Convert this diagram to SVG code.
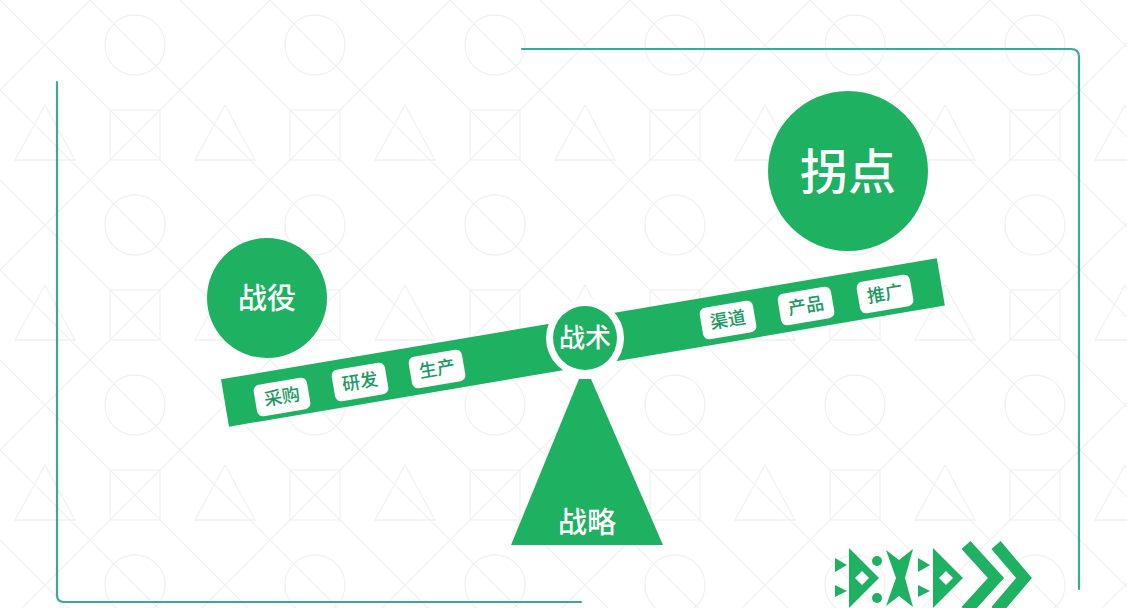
<svg xmlns="http://www.w3.org/2000/svg" width="1127" height="608" viewBox="0 0 1127 608">
<defs>
<style>
.bg{fill:#ffffff}
.pat{fill:none;stroke:#f0f2f2;stroke-width:1.3}
.frame{fill:none;stroke:#3aa998;stroke-width:2.2;stroke-linecap:round}
.g{fill:#1fb162}
.w{fill:#ffffff}
.chev{fill:none;stroke:#1fb162;stroke-width:12;stroke-linejoin:miter}
.big{font-family:"Noto Sans CJK SC","Noto Sans",sans-serif;fill:#ffffff;font-weight:500;text-anchor:middle}
.lbl{font-family:"Noto Sans CJK SC","Noto Sans",sans-serif;fill:#1a9a62;font-weight:500;font-size:18px;text-anchor:middle}
</style>
<pattern id="tile" x="0" y="0" width="180" height="180" patternUnits="userSpaceOnUse">
<path class="pat" d="M0 0 L90 90 M90 0 L0 90"/>
<circle class="pat" cx="135" cy="45" r="30"/>
<rect class="pat" x="110" y="110" width="50" height="50"/>
<path class="pat" d="M45 105 L75 160 L15 160 Z"/>
<path class="pat" d="M90 90 L180 180 M180 90 L90 180 M0 90 L90 180 M90 0 L180 90"/>
</pattern>
</defs>
<rect class="bg" x="0" y="0" width="1127" height="608"/>
<rect x="0" y="0" width="1127" height="608" fill="url(#tile)"/>

<g id="frame">
<path class="frame" d="M522 49 L1071 49 Q1079 49 1079 57 L1079 589"/>
<path class="frame" d="M57 82 L57 595 Q57 602 64 602 L581 602"/>
</g>

<g id="connectors">
<g id="beam" transform="translate(225,403) rotate(-9.6)">
<rect class="g" x="0" y="-24" width="726" height="48"/>
</g>
</g>

<g id="node-zhanyi">
<circle class="g" cx="267" cy="298" r="60"/>
<text class="big" x="267" y="309" font-size="29">战役</text>
</g>

<g id="node-guaidian">
<circle class="g" cx="848" cy="171" r="80"/>
<text class="big" x="848" y="189" font-size="48" font-weight="400">拐点</text>
</g>

<g id="node-zhanlue">
<path class="g" d="M583 379 L591 379 L663 545 L511 545 L579 379 Z"/>
<text class="big" x="587" y="533" font-size="29">战略</text>
</g>

<g id="node-zhanshu">
<circle class="w" cx="585" cy="338" r="39"/>
<circle class="g" cx="585" cy="338" r="32"/>
<text class="big" x="585" y="347" font-size="26">战术</text>
</g>

<g id="label-caigou" transform="translate(282,397) rotate(-9.6)">
<rect class="w" x="-27" y="-16" width="54" height="32" rx="6"/>
<text class="lbl" x="0" y="6">采购</text>
</g>
<g id="label-yanfa" transform="translate(360,382) rotate(-9.6)">
<rect class="w" x="-27" y="-16" width="54" height="32" rx="6"/>
<text class="lbl" x="0" y="6">研发</text>
</g>
<g id="label-shengchan" transform="translate(437,369) rotate(-9.6)">
<rect class="w" x="-27" y="-16" width="54" height="32" rx="6"/>
<text class="lbl" x="0" y="6">生产</text>
</g>
<g id="label-qudao" transform="translate(728,320) rotate(-9.6)">
<rect class="w" x="-27" y="-16" width="54" height="32" rx="6"/>
<text class="lbl" x="0" y="6">渠道</text>
</g>
<g id="label-chanpin" transform="translate(806,306) rotate(-9.6)">
<rect class="w" x="-27" y="-16" width="54" height="32" rx="6"/>
<text class="lbl" x="0" y="6">产品</text>
</g>
<g id="label-tuiguang" transform="translate(885,294) rotate(-9.6)">
<rect class="w" x="-27" y="-16" width="54" height="32" rx="6"/>
<text class="lbl" x="0" y="6">推广</text>
</g>

<g id="deco">
<path class="g" d="M835 558 L847 565 L835 572 Z"/>
<path class="g" d="M835 585 L847 591 L835 597 Z"/>
<path class="g" d="M849 548 L879 578 L849 608 Z"/>
<path class="w" d="M862 571 L869 578 L862 585 L855 578 Z"/>
<circle class="g" cx="877" cy="561" r="5"/>
<circle class="g" cx="877" cy="598" r="5"/>
<path class="g" d="M886 550 L899 560 L913 549 L905 578 L913 607 L899 596 L886 606 L896 578 Z"/>
<path class="g" d="M918 558 L930 565 L918 572 Z"/>
<path class="g" d="M918 585 L930 591 L918 597 Z"/>
<path class="g" d="M933 548 L963 578 L933 608 Z"/>
<path class="w" d="M946 571 L953 578 L946 585 L939 578 Z"/>
<polyline class="chev" points="966,545 996,578 966,611"/>
<polyline class="chev" points="996,545 1024,578 996,611"/>
</g>
</svg>
